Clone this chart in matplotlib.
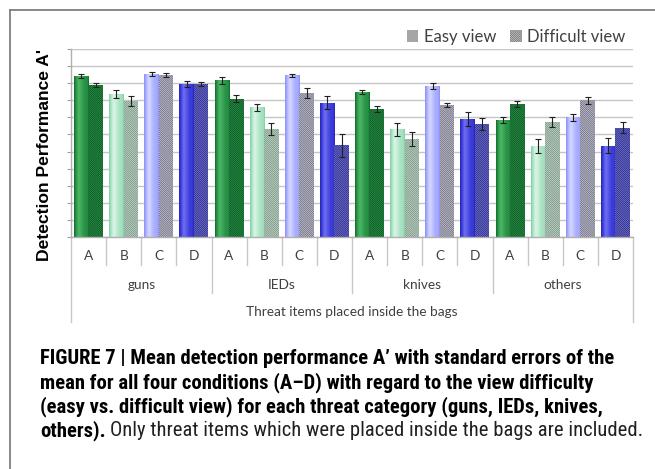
import numpy as np
import matplotlib
matplotlib.use("Agg")
import matplotlib.pyplot as plt
from matplotlib.patches import Patch
from matplotlib.lines import Line2D
from matplotlib.colors import to_rgb
from matplotlib import font_manager
from matplotlib.font_manager import FontProperties

# ---------------- data ----------------
conditions = ['A', 'B', 'C', 'D']
groups = ['guns', 'IEDs', 'knives', 'others']
easy = [0.972, 0.919, 0.978, 0.949,
        0.958, 0.879, 0.973, 0.893,
        0.924, 0.815, 0.943, 0.846,
        0.843, 0.766, 0.851, 0.767]
difficult = [0.946, 0.898, 0.975, 0.948,
             0.905, 0.816, 0.921, 0.768,
             0.875, 0.788, 0.886, 0.831,
             0.890, 0.838, 0.900, 0.820]
easy_se = [0.0065, 0.013, 0.005, 0.009,
           0.0094, 0.011, 0.005, 0.0185,
           0.006, 0.018, 0.0094, 0.0197,
           0.0097, 0.0214, 0.010, 0.0214]
diff_se = [0.0053, 0.014, 0.005, 0.007,
           0.010, 0.018, 0.015, 0.034,
           0.010, 0.0205, 0.005, 0.0185,
           0.009, 0.0147, 0.011, 0.0156]
series_labels = ['Easy view', 'Difficult view']
x_title = 'Threat items placed inside the bags'
y_title = "Detection Performance A'"
ymin, ymax, ystep = 0.5, 1.05, 0.05

# ---------------- styles ----------------
easy_cols = {
    'A': ('#15682e', '#2a9446', '#4cb868'),
    'B': ('#7ccfa2', '#a9e3c3', '#dcf5e8'),
    'C': ('#8a90f6', '#a9aeff', '#d6d9ff'),
    'D': ('#2424b8', '#3d3ddc', '#7070f2'),
}
diff_cols = {  # (face, hatch)
    'A': ('#2e9a4e', '#0c5522'),
    'B': ('#d2e2da', '#76927f'),
    'C': ('#d4d4de', '#6c6c80'),
    'D': ('#8282d2', '#28288c'),
}
HATCH = '\\' * 16
grid_col = '#c6c6c6'
text_col = '#404040'
plt.rcParams['hatch.linewidth'] = 0.6


# ---- pick a condensed bold + regular face for the caption ----
def wnum(w):
    if isinstance(w, (int, float)):
        return int(w)
    return font_manager.weight_dict.get(str(w), 400)


def is_cond(f):
    return ('Narrow' in f.name or 'Condensed' in f.name or
            str(f.stretch) in ('condensed', 'semi-condensed', 'extra-condensed'))


cands = [f for f in font_manager.fontManager.ttflist
         if is_cond(f) and f.style == 'normal']
pref = ['Liberation Sans Narrow', 'Roboto Condensed', 'DejaVu Sans',
        'Open Sans Condensed', 'Noto Sans']
cap_bold = cap_reg = None
by_name = {}
for f in cands:
    by_name.setdefault(f.name, []).append(f)
order = [nm for nm in pref if nm in by_name] + sorted(nm for nm in by_name if nm not in pref)
for nm in order:
    fs_ = by_name[nm]
    bolds = [f for f in fs_ if wnum(f.weight) >= 600]
    regs = [f for f in fs_ if 350 <= wnum(f.weight) <= 500]
    if bolds:
        cap_bold = FontProperties(fname=sorted(bolds, key=lambda f: abs(wnum(f.weight) - 700))[0].fname)
        cap_reg = FontProperties(fname=(regs[0].fname if regs else bolds[0].fname))
        break
if cap_bold is None:
    cap_bold = FontProperties(family='Roboto', weight='bold')
    cap_reg = FontProperties(family='Roboto')

W, H = 655, 469
fig = plt.figure(figsize=(W / 100, H / 100), dpi=100)
fig.patch.set_facecolor('white')

ax_l, ax_r, ax_t, ax_b = 71, 633, 49.3, 236.7
ax = fig.add_axes([ax_l / W, 1 - ax_b / H, (ax_r - ax_l) / W, (ax_b - ax_t) / H])

n = len(groups) * len(conditions)
x = np.arange(n)
bw = 0.413
cond_of = [conditions[i % len(conditions)] for i in range(n)]

ax.set_xlim(-0.5, n - 0.5)
ax.set_ylim(ymin, ymax)
ax.set_axisbelow(True)
ax.set_yticks(np.arange(ymin, ymax + 1e-9, ystep))
ax.set_yticklabels([])
ax.set_xticks([])
ax.yaxis.grid(True, color=grid_col, lw=1.0)
ax.tick_params(axis='y', length=3.2, width=0.8, color='#a0a0a0', direction='out')
for s in ['top', 'right']:
    ax.spines[s].set_visible(False)
for s in ['left', 'bottom']:
    ax.spines[s].set_color('#b0b0b0')
    ax.spines[s].set_linewidth(1.0)


def gradient_img(edge, base, hi, npx=40):
    e, b, h = (np.array(to_rgb(c)) for c in (edge, base, hi))
    t = np.linspace(0, 1, npx)
    stops = [0.0, 0.12, 0.32, 0.7, 0.9, 1.0]
    cols = [e, b, h, b, b * 0.85 + e * 0.15, e]
    img = np.zeros((1, npx, 3))
    for ch in range(3):
        img[0, :, ch] = np.interp(t, stops, [c[ch] for c in cols])
    return img


easy_bars = ax.bar(x - bw / 2, easy, width=bw, color='none', edgecolor='none', zorder=2)
for bar, c in zip(easy_bars, cond_of):
    x0 = bar.get_x()
    img = gradient_img(*easy_cols[c])
    ax.imshow(img, extent=[x0, x0 + bar.get_width(), 0, bar.get_height()],
              aspect='auto', zorder=2, interpolation='bilinear')

for xi, v, c in zip(x, difficult, cond_of):
    face, hatch = diff_cols[c]
    ax.bar(xi + bw / 2, v, width=bw, color=face, edgecolor=hatch,
           hatch=HATCH, linewidth=0, zorder=2)

ax.errorbar(x - bw / 2, easy, yerr=easy_se, fmt='none', ecolor='#202020',
            elinewidth=0.8, capsize=2.2, capthick=0.8, zorder=4)
ax.errorbar(x + bw / 2, difficult, yerr=diff_se, fmt='none', ecolor='#202020',
            elinewidth=0.8, capsize=2.2, capthick=0.8, zorder=4)

ax.set_xlim(-0.5, n - 0.5)
ax.set_ylim(ymin, ymax)

# ---- multi-level category axis ----
hpx = ax_b - ax_t
def fy(py):
    return (ax_b - py) / hpx

tr = ax.get_xaxis_transform()
lab_font = dict(family=['Lato', 'DejaVu Sans'], color=text_col)
sep_col = '#c8c8c8'
for i in range(n + 1):
    xb = i - 0.5
    if i == 0 or i == n:
        y1 = fy(322)
    elif i % len(conditions) == 0:
        y1 = fy(293)
    else:
        y1 = fy(265)
    ax.plot([xb, xb], [0, y1], transform=tr, color=sep_col, lw=1.0, clip_on=False)
for i in range(n):
    ax.text(x[i], fy(256.5), cond_of[i], transform=tr, ha='center', va='center',
            fontsize=9.8, **lab_font)
for g, name in enumerate(groups):
    xc = g * len(conditions) + (len(conditions) - 1) / 2
    ax.text(xc, fy(285), name, transform=tr, ha='center', va='center',
            fontsize=9.8, **lab_font)
ax.text((n - 1) / 2, fy(312), x_title, transform=tr, ha='center', va='center',
        fontsize=9.8, **lab_font)

# y title
fig.text(45 / W, 1 - 155 / H, y_title, rotation=90, ha='center', va='center',
         fontsize=12.6, fontweight='bold', family=['Liberation Sans', 'DejaVu Sans'],
         color='black')

# legend
handles = [Patch(facecolor='#a6a6a6', edgecolor='none'),
           Patch(facecolor='#d8d8d8', edgecolor='#707070', hatch=HATCH, linewidth=0)]
leg = fig.legend(handles, series_labels, loc='center right',
                 bbox_to_anchor=(634 / W, 1 - 37 / H), ncol=2, frameon=False,
                 handlelength=0.7, handleheight=0.7, handletextpad=0.35,
                 columnspacing=0.8, borderpad=0,
                 prop=dict(family='Lato', size=12))
for t in leg.get_texts():
    t.set_color(text_col)

# frame
fig.add_artist(Line2D([9.5 / W, 1], [1 - 10 / H, 1 - 10 / H], color='#808080', lw=1.3))
fig.add_artist(Line2D([9.5 / W, 9.5 / W], [0, 1 - 10 / H], color='#808080', lw=1.3))

# caption
cap_lines = [
    "FIGURE 7 | Mean detection performance A\u2019 with standard errors of the",
    "mean for all four conditions (A\u2013D) with regard to the view difficulty",
    "(easy vs. difficult view) for each threat category (guns, IEDs, knives,",
]
cap_last_bold = "others)."
cap_last_reg = "Only threat items which were placed inside the bags are included."
cap_y = [359, 383, 407, 431]
renderer = fig.canvas.get_renderer()


def width_of(s, fp, size):
    p = fig.text(0, 0, s, fontproperties=fp)
    p.set_fontsize(size)
    w = p.get_window_extent(renderer).width
    p.remove()
    return w


fs0 = 13.0
w1 = max(width_of(s, cap_bold, fs0) for s in cap_lines)
w4 = width_of(cap_last_bold, cap_bold, fs0) + 4 + width_of(cap_last_reg, cap_reg, fs0)
fs = fs0 * min(598 / w1, 598 / w4)
for line, yy in zip(cap_lines, cap_y):
    t = fig.text(40 / W, 1 - yy / H, line, fontproperties=cap_bold,
                 ha='left', va='center', color='black')
    t.set_fontsize(fs)
t1 = fig.text(40 / W, 1 - cap_y[3] / H, cap_last_bold, fontproperties=cap_bold,
              ha='left', va='center', color='black')
t1.set_fontsize(fs)
bb = t1.get_window_extent(renderer)
t2 = fig.text((bb.x1 + 4) / W, 1 - cap_y[3] / H, cap_last_reg,
              fontproperties=cap_reg, ha='left', va='center', color='#202020')
t2.set_fontsize(fs)

fig.savefig('out.png', dpi=100, facecolor='white')
